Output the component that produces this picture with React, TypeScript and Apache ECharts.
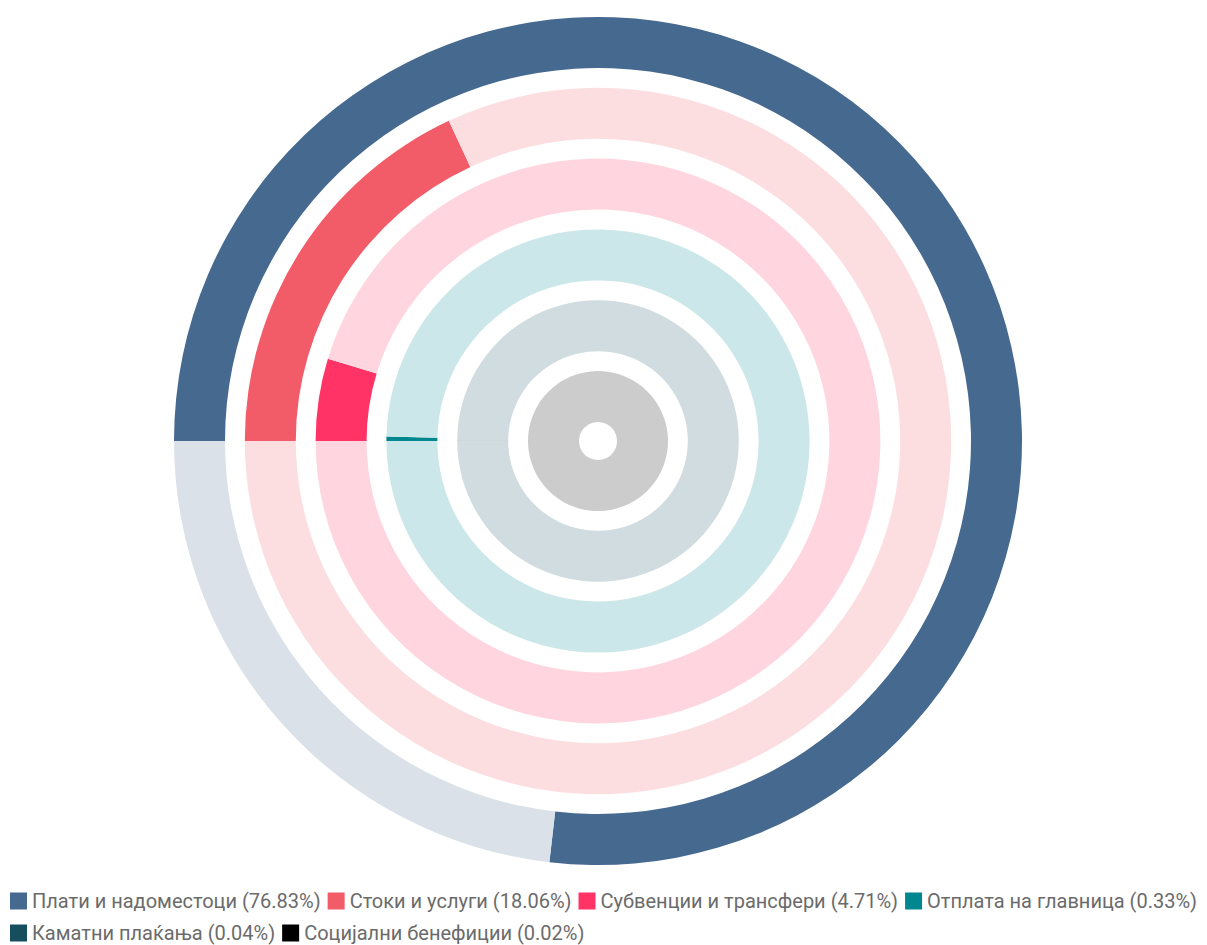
import React, { useEffect, useRef } from "react";
import * as echarts from "echarts";

const categories = [
  "Плати и надоместоци",
  "Стоки и услуги",
  "Субвенции и трансфери",
  "Отплата на главница",
  "Каматни плаќања",
  "Социјални бенефиции",
];
const shares = [76.83, 18.06, 4.71, 0.33, 0.04, 0.02];
const colors = ["#466990", "#f25c69", "#ff3366", "#00868f", "#164e5e", "#000000"];
const trackColors = ["#dae1e9", "#fcdee1", "#ffd6e0", "#cce7e9", "#d0dcdf", "#cccccc"];

const OUTER = 424;
const WIDTH = 51;
const STEP = 70.8;

export default function App() {
  const ref = useRef<HTMLDivElement>(null);
  useEffect(() => {
    if (!ref.current) return;
    const chart = echarts.init(ref.current, null, { renderer: "svg" });
    const series = categories.map((name, i) => {
      const outer = OUTER - i * STEP;
      const inner = outer - WIDTH;
      return {
        type: "pie",
        name: "ring" + i,
        center: [598, 441],
        radius: [inner, outer],
        startAngle: 180,
        clockwise: true,
        minAngle: 0,
        label: { show: false },
        labelLine: { show: false },
        emphasis: { disabled: true },
        silent: true,
        itemStyle: { borderWidth: 0 },
        data: [
          { name, value: shares[i], itemStyle: { color: colors[i] } },
          { name: "rest" + i, value: 100 - shares[i], itemStyle: { color: trackColors[i] } },
        ],
      };
    });
    const fmt = (n: string) => {
      const i = categories.indexOf(n);
      return `${n} (${shares[i].toFixed(2)}%)`;
    };
    const legendBase = {
      orient: "horizontal",
      left: 5,
      icon: "rect",
      itemWidth: 17,
      itemHeight: 17,
      itemGap: 7,
      selectedMode: false,
      formatter: fmt,
      textStyle: { color: "#6b6b6b", fontSize: 20, fontFamily: "Roboto" },
    };
    chart.setOption({
      animation: false,
      backgroundColor: "#ffffff",
      color: colors,
      legend: [
        { ...legendBase, top: 886, data: categories.slice(0, 4) },
        { ...legendBase, top: 918, data: categories.slice(4) },
      ],
      series,
    });
    return () => chart.dispose();
  }, []);
  return (
    <div
      ref={ref}
      style={{ position: "fixed", left: 0, top: 0, width: 1207, height: 945 }}
    />
  );
}
